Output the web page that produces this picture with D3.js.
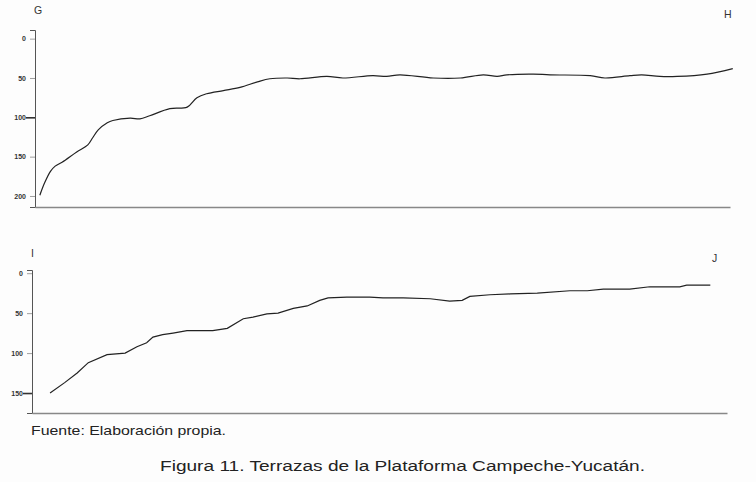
<!DOCTYPE html>
<html>
<head>
<meta charset="utf-8">
<script src="https://cdn.jsdelivr.net/npm/d3@7"></script>
<style>
  body { margin: 0; background: #fdfdfd; }
  svg { display: block; font-family: "Liberation Sans", Arial, sans-serif; }
</style>
</head>
<body>
<svg width="756" height="482"></svg>
<script>
// profile G-H (distance along profile, depth in m)
var distGH = [0.7, 1.4, 2.2, 2.9, 3.9, 6.0, 7.6, 8.3, 9.1, 10.4, 11.2, 13.7, 15.1, 16.5, 19.4, 21.9, 23.3, 24.7, 27.1, 29.5,
  32.0, 33.8, 36.3, 38.1, 42.0, 44.3, 48.6, 50.6, 52.5, 57.3, 61.2, 64.5, 66.5, 67.9, 71.7, 74.1, 79.9, 82.0, 85.6, 87.3,
  89.9, 92.4, 96.7, 100.4]
var depthGH = [199, 183, 169, 162, 157, 144, 135, 126, 116, 107, 104, 101, 102, 98, 89, 87, 75, 70, 66, 62,
  55, 51, 50, 51, 48, 50, 47, 48, 46, 50, 50, 46, 48, 46, 45, 46, 47, 50, 47, 46,
  48, 48, 45, 38]

// profile I-J
var distIJ = [2.6, 4.7, 6.5, 8.1, 10.8, 13.4, 15.1, 16.5, 17.4, 18.8, 20.3, 22.3, 26.0, 28.1, 30.4, 31.8, 33.8, 35.4, 37.6, 39.6,
  41.4, 42.6, 45.3, 48.6, 50.5, 53.4, 57.3, 60.1, 61.9, 63.0, 65.9, 68.8, 72.7, 77.4, 79.9, 82.2, 86.0, 88.9, 93.2, 94.2, 97.6]
var depthIJ = [150, 137, 125, 112, 102, 100, 92, 87, 80, 77, 75, 72, 72, 69, 57, 55, 51, 50, 44, 41,
  34, 31, 30, 30, 31, 31, 32, 35, 34, 29, 27, 26, 25, 22, 22, 20, 20, 17, 17, 15, 15]

var ticksGH = [0, 50, 100, 150, 200]
var ticksIJ = [0, 50, 100, 150]

var svg = d3.select('svg')

function panel(cfg) {
  var x = d3.scaleLinear().domain([0, 100]).range([cfg.left, cfg.right])
  var y = d3.scaleLinear().domain(cfg.yDomain).range([cfg.top, cfg.bottom])
  var g = svg.append('g')

  // y axis with ticks on the left
  var yAxis = d3.axisLeft(y).tickValues(cfg.ticks).tickSize(5).tickPadding(4)
  var ay = g.append('g').attr('transform', 'translate(' + cfg.left + ',0)').call(yAxis)
  ay.select('.domain').attr('stroke', '#555').attr('stroke-width', 1)
  ay.selectAll('.tick line').attr('stroke', function(d) { return d == cfg.boldTick ? '#333' : '#888' })
    .attr('x2', function(d) { return d == cfg.boldTick ? -9 : -5 })
    .attr('stroke-width', function(d) { return d == cfg.boldTick ? 1.6 : 0.8 })
  ay.selectAll('.tick text').attr('font-size', 7).attr('font-weight', 'bold').attr('fill', '#333')

  // x axis, no ticks
  g.append('g').attr('transform', 'translate(0,' + cfg.bottom + ')')
    .call(d3.axisBottom(x).tickValues([]).tickSizeOuter(0))
    .select('.domain').attr('stroke', '#888').attr('stroke-width', 1.5)

  var line = d3.line()
    .x(function(d) { return x(d[0]) })
    .y(function(d) { return y(d[1]) })
    .curve(cfg.curve)

  g.append('path')
    .datum(d3.zip(cfg.dist, cfg.depth))
    .attr('d', line)
    .attr('fill', 'none')
    .attr('stroke', '#222')
    .attr('stroke-width', 1.2)

  g.append('text').attr('x', cfg.l1[0]).attr('y', cfg.l1[1]).text(cfg.labels[0])
    .attr('font-size', 10.5).attr('fill', '#333')
  g.append('text').attr('x', cfg.l2[0]).attr('y', cfg.l2[1]).text(cfg.labels[1])
    .attr('font-size', 10.5).attr('fill', '#333')
}

panel({ left: 35, right: 730, top: 30, bottom: 207, yDomain: [-11, 214], ticks: ticksGH, boldTick: 100,
  dist: distGH, depth: depthGH, curve: d3.curveCatmullRom, labels: ['G', 'H'], l1: [34, 14], l2: [724, 18] })

panel({ left: 32, right: 727, top: 270, bottom: 413, yDomain: [-4, 175], ticks: ticksIJ, boldTick: 150,
  dist: distIJ, depth: depthIJ, curve: d3.curveLinear, labels: ['I', 'J'], l1: [31, 257], l2: [712, 262] })

svg.append('text').attr('x', 31).attr('y', 435).text('Fuente: Elaboración propia.')
  .attr('font-size', 13.5).attr('fill', '#222')
  .attr('textLength', 195).attr('lengthAdjust', 'spacingAndGlyphs')

svg.append('text').attr('x', 160).attr('y', 471)
  .text('Figura 11. Terrazas de la Plataforma Campeche-Yucatán.')
  .attr('font-size', 15.5).attr('fill', '#222')
  .attr('textLength', 485).attr('lengthAdjust', 'spacingAndGlyphs')
</script>
</body>
</html>
